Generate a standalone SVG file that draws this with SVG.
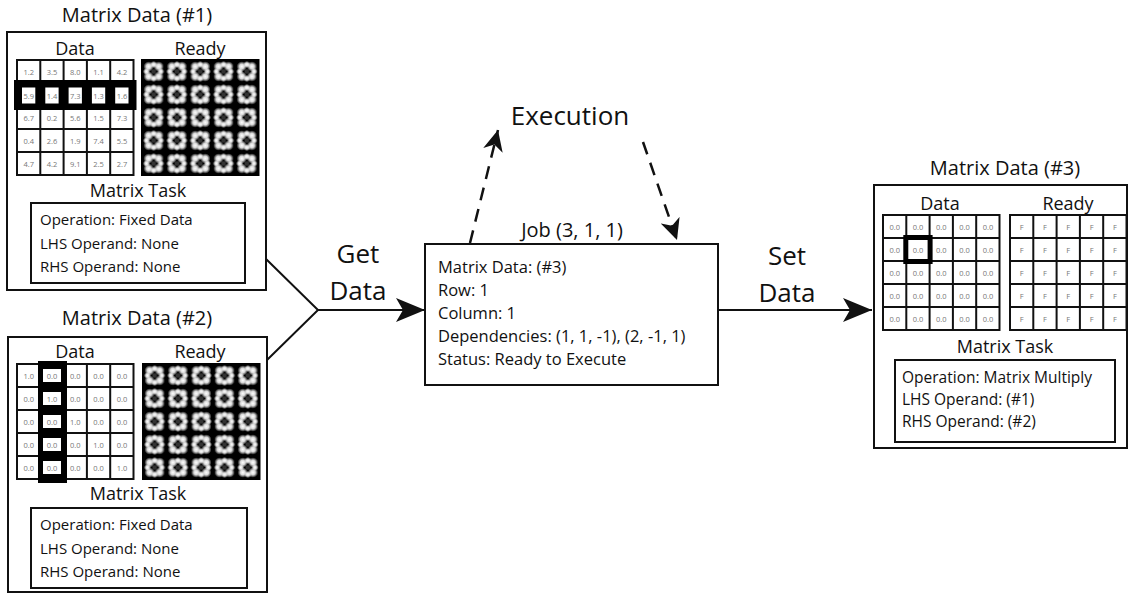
<svg xmlns="http://www.w3.org/2000/svg" xmlns:xlink="http://www.w3.org/1999/xlink" width="1130" height="595" viewBox="0 0 1130 595">
<style>
text{font-family:"Open Sans","Liberation Sans",sans-serif;fill:#111}
.title{font-size:20px;text-anchor:middle}
.sub{font-size:18px;text-anchor:middle}
.body{font-size:15px}
.body3{font-size:15.5px}
.job{font-size:16.5px}
.big{font-size:26px;text-anchor:middle}
.num{font-size:7.5px;fill:#777;text-anchor:middle}
.box{fill:#fff;stroke:#111;stroke-width:2}
.line{fill:none;stroke:#111;stroke-width:2}
.dash{fill:none;stroke:#111;stroke-width:2.5;stroke-dasharray:13 9}
</style>
<defs>
<radialGradient id="blob">
<stop offset="0" stop-color="#fff" stop-opacity="1"/>
<stop offset="0.45" stop-color="#fff" stop-opacity="0.85"/>
<stop offset="1" stop-color="#fff" stop-opacity="0"/>
</radialGradient>
<pattern id="readyPat" patternUnits="userSpaceOnUse" x="0" y="0" width="23.3" height="23">
<rect width="23.3" height="23" fill="#000"/>
<circle cx="6.6" cy="6.5" r="5.2" fill="url(#blob)"/>
<circle cx="16.7" cy="6.5" r="5.2" fill="url(#blob)"/>
<circle cx="6.6" cy="16.5" r="5.2" fill="url(#blob)"/>
<circle cx="16.7" cy="16.5" r="5.2" fill="url(#blob)"/>
<circle cx="11.65" cy="4.5" r="3.6" fill="url(#blob)"/>
<circle cx="11.65" cy="18.5" r="3.6" fill="url(#blob)"/>
<circle cx="4.5" cy="11.5" r="3.6" fill="url(#blob)"/>
<circle cx="18.8" cy="11.5" r="3.6" fill="url(#blob)"/>
<circle cx="11.65" cy="11.5" r="2.2" fill="#333"/>
</pattern>
<g id="grid">
<rect x="0" y="0" width="116.5" height="115" fill="#fff" stroke="#111" stroke-width="2"/>
<path d="M23.3,0V115M46.6,0V115M69.9,0V115M93.2,0V115M0,23H116.5M0,46H116.5M0,69H116.5M0,92H116.5" fill="none" stroke="#111" stroke-width="2"/>
</g>
<g id="ready">
<rect x="0" y="0" width="116.5" height="115" fill="url(#readyPat)" stroke="#000" stroke-width="2"/>
</g>
<marker id="ah" markerUnits="userSpaceOnUse" markerWidth="30" markerHeight="26" viewBox="0 0 30 26" refX="29" refY="13" orient="auto">
<path d="M0,1 L29,13 L0,25 L7,13 Z" fill="#111"/>
</marker>
<marker id="ahs" markerUnits="userSpaceOnUse" markerWidth="22" markerHeight="20" viewBox="0 0 22 20" refX="21" refY="10" orient="auto">
<path d="M0,0 L21,10 L0,20 L6,10 Z" fill="#111"/>
</marker>
</defs>
<rect width="1130" height="595" fill="#fff"/>

<g id="connectors">
<path class="line" d="M265,258 L318,310 L267,360"/>
<path class="line" d="M318,310 L425,310" marker-end="url(#ah)"/>
<path class="line" d="M717,310 L872,310" marker-end="url(#ah)"/>
<path class="dash" d="M470,243 L498,130" marker-end="url(#ahs)"/>
<path class="dash" d="M643,142 L677,240" marker-end="url(#ahs)"/>
<text class="big" x="358" y="263">Get</text>
<text class="big" x="358" y="300">Data</text>
<text class="big" x="787" y="265">Set</text>
<text class="big" x="787" y="302">Data</text>
</g>

<g id="execution">
<text class="big" x="570" y="125">Execution</text>
</g>

<g id="matrix1">
<text class="title" x="137" y="22">Matrix Data (#1)</text>
<rect class="box" x="7" y="32" width="259" height="258"/>
<text class="sub" x="75" y="55">Data</text>
<text class="sub" x="200" y="55">Ready</text>
<use xlink:href="#grid" href="#grid" x="17" y="60"/>
<rect x="14" y="80" width="122.5" height="30" fill="#000"/>
<rect x="22" y="87.5" width="13.3" height="16" fill="#fff"/>
<rect x="45.3" y="87.5" width="13.3" height="16" fill="#fff"/>
<rect x="68.6" y="87.5" width="13.3" height="16" fill="#fff"/>
<rect x="91.9" y="87.5" width="13.3" height="16" fill="#fff"/>
<rect x="115.2" y="87.5" width="13.3" height="16" fill="#fff"/>
<g class="nums">
<text class="num" x="28.7" y="74.5">1.2</text><text class="num" x="52" y="74.5">3.5</text><text class="num" x="75.3" y="74.5">8.0</text><text class="num" x="98.6" y="74.5">1.1</text><text class="num" x="121.9" y="74.5">4.2</text>
<text class="num" x="28.7" y="98.5">5.9</text><text class="num" x="52" y="98.5">1.4</text><text class="num" x="75.3" y="98.5">7.3</text><text class="num" x="98.6" y="98.5">1.3</text><text class="num" x="121.9" y="98.5">1.6</text>
<text class="num" x="28.7" y="120.5">6.7</text><text class="num" x="52" y="120.5">0.2</text><text class="num" x="75.3" y="120.5">5.6</text><text class="num" x="98.6" y="120.5">1.5</text><text class="num" x="121.9" y="120.5">7.3</text>
<text class="num" x="28.7" y="143.5">0.4</text><text class="num" x="52" y="143.5">2.6</text><text class="num" x="75.3" y="143.5">1.9</text><text class="num" x="98.6" y="143.5">7.4</text><text class="num" x="121.9" y="143.5">5.5</text>
<text class="num" x="28.7" y="166.5">4.7</text><text class="num" x="52" y="166.5">4.2</text><text class="num" x="75.3" y="166.5">9.1</text><text class="num" x="98.6" y="166.5">2.5</text><text class="num" x="121.9" y="166.5">2.7</text>
</g>
<use xlink:href="#ready" href="#ready" x="142" y="60"/>
<text class="sub" x="138" y="197">Matrix Task</text>
<rect class="box" x="31" y="203" width="214" height="80"/>
<text class="body" x="40" y="225">Operation: Fixed Data</text>
<text class="body" x="40" y="249">LHS Operand: None</text>
<text class="body" x="40" y="272">RHS Operand: None</text>
</g>

<g id="matrix2">
<text class="title" x="137" y="325">Matrix Data (#2)</text>
<rect class="box" x="8" y="337" width="259" height="255"/>
<text class="sub" x="75" y="358">Data</text>
<text class="sub" x="200" y="358">Ready</text>
<use xlink:href="#grid" href="#grid" x="17" y="364"/>
<rect x="38" y="361" width="29" height="122" fill="#000"/>
<rect x="43" y="369" width="18" height="13" fill="#fff"/>
<rect x="43" y="392" width="18" height="13" fill="#fff"/>
<rect x="43" y="415" width="18" height="13" fill="#fff"/>
<rect x="43" y="438" width="18" height="13" fill="#fff"/>
<rect x="43" y="461" width="18" height="13" fill="#fff"/>
<g class="nums">
<text class="num" x="28.7" y="378.5">1.0</text><text class="num" x="52" y="378.5">0.0</text><text class="num" x="75.3" y="378.5">0.0</text><text class="num" x="98.6" y="378.5">0.0</text><text class="num" x="121.9" y="378.5">0.0</text>
<text class="num" x="28.7" y="401.5">0.0</text><text class="num" x="52" y="401.5">1.0</text><text class="num" x="75.3" y="401.5">0.0</text><text class="num" x="98.6" y="401.5">0.0</text><text class="num" x="121.9" y="401.5">0.0</text>
<text class="num" x="28.7" y="424.5">0.0</text><text class="num" x="52" y="424.5">0.0</text><text class="num" x="75.3" y="424.5">1.0</text><text class="num" x="98.6" y="424.5">0.0</text><text class="num" x="121.9" y="424.5">0.0</text>
<text class="num" x="28.7" y="447.5">0.0</text><text class="num" x="52" y="447.5">0.0</text><text class="num" x="75.3" y="447.5">0.0</text><text class="num" x="98.6" y="447.5">1.0</text><text class="num" x="121.9" y="447.5">0.0</text>
<text class="num" x="28.7" y="470.5">0.0</text><text class="num" x="52" y="470.5">0.0</text><text class="num" x="75.3" y="470.5">0.0</text><text class="num" x="98.6" y="470.5">0.0</text><text class="num" x="121.9" y="470.5">1.0</text>
</g>
<use xlink:href="#ready" href="#ready" x="143" y="364"/>
<text class="sub" x="138" y="500">Matrix Task</text>
<rect class="box" x="31" y="508" width="216" height="80"/>
<text class="body" x="40" y="530">Operation: Fixed Data</text>
<text class="body" x="40" y="554">LHS Operand: None</text>
<text class="body" x="40" y="577">RHS Operand: None</text>
</g>

<g id="job">
<text x="572" y="237" style="font-size:20px;text-anchor:middle">Job (3, 1, 1)</text>
<rect class="box" x="425" y="244" width="293" height="141"/>
<text class="job" x="438" y="273">Matrix Data: (#3)</text>
<text class="job" x="438" y="296">Row: 1</text>
<text class="job" x="438" y="319">Column: 1</text>
<text class="job" x="438" y="342">Dependencies: (1, 1, -1), (2, -1, 1)</text>
<text class="job" x="438" y="365">Status: Ready to Execute</text>
</g>

<g id="matrix3">
<text class="title" x="1005" y="175">Matrix Data (#3)</text>
<rect class="box" x="874" y="185" width="253" height="263"/>
<text class="sub" x="940" y="210">Data</text>
<text class="sub" x="1068" y="210">Ready</text>
<use xlink:href="#grid" href="#grid" x="883" y="215"/>
<rect x="905.8" y="237.5" width="24.3" height="24" fill="#fff" stroke="#000" stroke-width="5"/>
<g class="nums">
<text class="num" x="894.7" y="229.5">0.0</text><text class="num" x="918" y="229.5">0.0</text><text class="num" x="941.3" y="229.5">0.0</text><text class="num" x="964.6" y="229.5">0.0</text><text class="num" x="987.9" y="229.5">0.0</text>
<text class="num" x="894.7" y="252.5">0.0</text><text class="num" x="918" y="252.5">0.0</text><text class="num" x="941.3" y="252.5">0.0</text><text class="num" x="964.6" y="252.5">0.0</text><text class="num" x="987.9" y="252.5">0.0</text>
<text class="num" x="894.7" y="275.5">0.0</text><text class="num" x="918" y="275.5">0.0</text><text class="num" x="941.3" y="275.5">0.0</text><text class="num" x="964.6" y="275.5">0.0</text><text class="num" x="987.9" y="275.5">0.0</text>
<text class="num" x="894.7" y="298.5">0.0</text><text class="num" x="918" y="298.5">0.0</text><text class="num" x="941.3" y="298.5">0.0</text><text class="num" x="964.6" y="298.5">0.0</text><text class="num" x="987.9" y="298.5">0.0</text>
<text class="num" x="894.7" y="321.5">0.0</text><text class="num" x="918" y="321.5">0.0</text><text class="num" x="941.3" y="321.5">0.0</text><text class="num" x="964.6" y="321.5">0.0</text><text class="num" x="987.9" y="321.5">0.0</text>
</g>
<use xlink:href="#grid" href="#grid" x="1010" y="215"/>
<g class="nums">
<text class="num" x="1021.7" y="229.5">F</text><text class="num" x="1045" y="229.5">F</text><text class="num" x="1068.3" y="229.5">F</text><text class="num" x="1091.6" y="229.5">F</text><text class="num" x="1114.9" y="229.5">F</text>
<text class="num" x="1021.7" y="252.5">F</text><text class="num" x="1045" y="252.5">F</text><text class="num" x="1068.3" y="252.5">F</text><text class="num" x="1091.6" y="252.5">F</text><text class="num" x="1114.9" y="252.5">F</text>
<text class="num" x="1021.7" y="275.5">F</text><text class="num" x="1045" y="275.5">F</text><text class="num" x="1068.3" y="275.5">F</text><text class="num" x="1091.6" y="275.5">F</text><text class="num" x="1114.9" y="275.5">F</text>
<text class="num" x="1021.7" y="298.5">F</text><text class="num" x="1045" y="298.5">F</text><text class="num" x="1068.3" y="298.5">F</text><text class="num" x="1091.6" y="298.5">F</text><text class="num" x="1114.9" y="298.5">F</text>
<text class="num" x="1021.7" y="321.5">F</text><text class="num" x="1045" y="321.5">F</text><text class="num" x="1068.3" y="321.5">F</text><text class="num" x="1091.6" y="321.5">F</text><text class="num" x="1114.9" y="321.5">F</text>
</g>
<text class="sub" x="1005" y="353">Matrix Task</text>
<rect class="box" x="895" y="360" width="220" height="82"/>
<text class="body3" x="902" y="383">Operation: Matrix Multiply</text>
<text class="body3" x="902" y="405">LHS Operand: (#1)</text>
<text class="body3" x="902" y="427">RHS Operand: (#2)</text>
</g>
</svg>
